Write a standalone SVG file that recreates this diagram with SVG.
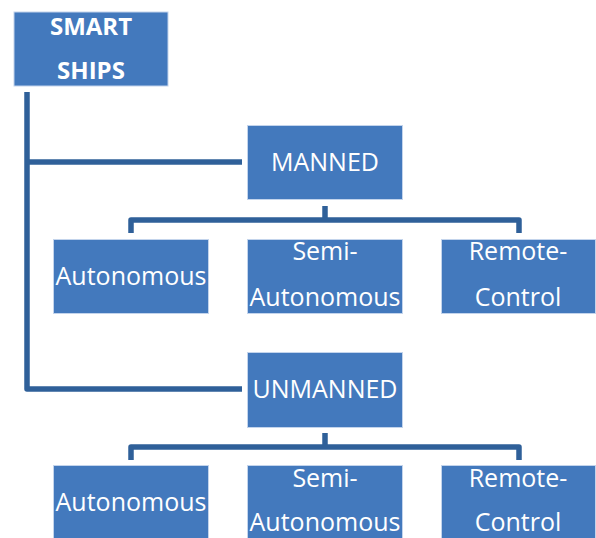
<svg xmlns="http://www.w3.org/2000/svg" width="596" height="538" viewBox="0 0 596 538">
<style>
.box{fill:#4379bd;stroke:#c3d4ec;stroke-width:1}
.t{font-family:"Open Sans","Liberation Sans",sans-serif;font-size:25px;fill:#ffffff;text-anchor:middle}
.b{font-weight:bold;font-size:24px}
.ln{fill:none;stroke:#2f6099;stroke-width:5.5;stroke-linejoin:round;stroke-linecap:butt}
</style>
<rect width="596" height="538" fill="#ffffff"/>
<g id="connectors">
<path class="ln" d="M27 92 V389 H242"/>
<path class="ln" d="M27 162 H242"/>
<path class="ln" d="M325 206 V220"/>
<path class="ln" d="M131 233 V220 H519 V233"/>
<path class="ln" d="M325 433 V447"/>
<path class="ln" d="M131 460 V447 H519 V460"/>
</g>
<g id="smart-ships">
<rect class="box" x="14" y="12" width="154" height="74"/>
<text class="t b" x="91" y="35">SMART</text>
<text class="t b" x="91" y="79">SHIPS</text>
</g>
<g id="manned">
<rect class="box" x="247.5" y="125.5" width="155" height="74"/>
<text class="t" x="325" y="171">MANNED</text>
</g>
<g id="manned-autonomous">
<rect class="box" x="53.5" y="239.5" width="155" height="74"/>
<text class="t" x="131" y="285">Autonomous</text>
</g>
<g id="manned-semi-autonomous">
<rect class="box" x="247.5" y="239.5" width="155" height="74"/>
<text class="t" x="325" y="260">Semi-</text>
<text class="t" x="325" y="306">Autonomous</text>
</g>
<g id="manned-remote-control">
<rect class="box" x="441.5" y="239.5" width="154" height="74"/>
<text class="t" x="518" y="260">Remote-</text>
<text class="t" x="518" y="306">Control</text>
</g>
<g id="unmanned">
<rect class="box" x="247.5" y="352.5" width="155" height="75"/>
<text class="t" x="325" y="398">UNMANNED</text>
</g>
<g id="unmanned-autonomous">
<rect class="box" x="53.5" y="465.5" width="155" height="74"/>
<text class="t" x="131" y="511">Autonomous</text>
</g>
<g id="unmanned-semi-autonomous">
<rect class="box" x="247.5" y="465.5" width="155" height="74"/>
<text class="t" x="325" y="487">Semi-</text>
<text class="t" x="325" y="531">Autonomous</text>
</g>
<g id="unmanned-remote-control">
<rect class="box" x="441.5" y="465.5" width="154" height="74"/>
<text class="t" x="518" y="487">Remote-</text>
<text class="t" x="518" y="531">Control</text>
</g>
</svg>
